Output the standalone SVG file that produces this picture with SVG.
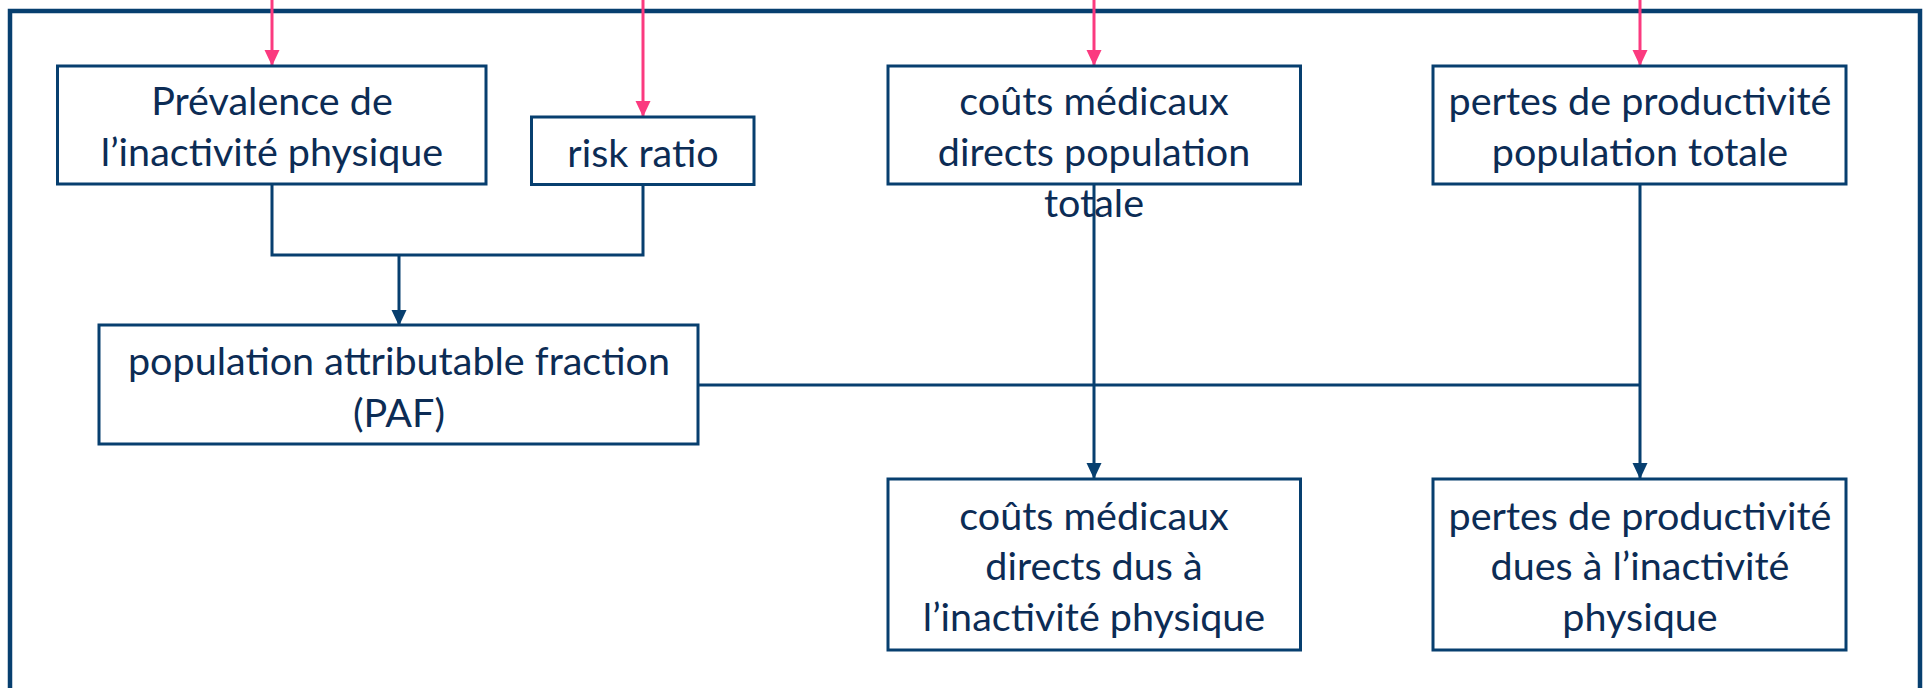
<svg xmlns="http://www.w3.org/2000/svg" width="1925" height="688" viewBox="0 0 1925 688">
<style>
.box{fill:#ffffff;stroke:#073f6f;stroke-width:3}
.t{font-family:Lato,"Liberation Sans",sans-serif;font-size:39.5px;fill:#0c2c55;text-anchor:middle}
.c{fill:none;stroke:#073f6f;stroke-width:3}
.p{fill:none;stroke:#fb3a7f;stroke-width:3}
</style>
<defs>
<marker id="ab" markerUnits="userSpaceOnUse" markerWidth="16" markerHeight="16" refX="16" refY="7.5" orient="auto" viewBox="0 0 16 15">
<path d="M0,0 L16,7.5 L0,15 Z" fill="#073f6f"/>
</marker>
<marker id="ap" markerUnits="userSpaceOnUse" markerWidth="16" markerHeight="16" refX="16" refY="7.5" orient="auto" viewBox="0 0 16 15">
<path d="M0,0 L16,7.5 L0,15 Z" fill="#fb3a7f"/>
</marker>
</defs>
<rect width="1925" height="688" fill="#ffffff"/>
<path d="M10,700 V11 H1920 V700" fill="none" stroke="#073f6f" stroke-width="4.5"/>
<g id="connectors">
<path class="c" d="M272,184 V255 H643 V185"/>
<path class="c" d="M399,255 V326" marker-end="url(#ab)"/>
<path class="c" d="M698,385 H1640"/>
<path class="c" d="M1094,184 V479" marker-end="url(#ab)"/>
<path class="c" d="M1640,184 V479" marker-end="url(#ab)"/>
<path class="p" d="M272,-5 V66" marker-end="url(#ap)"/>
<path class="p" d="M643,-5 V117" marker-end="url(#ap)"/>
<path class="p" d="M1094,-5 V66" marker-end="url(#ap)"/>
<path class="p" d="M1640,-5 V66" marker-end="url(#ap)"/>
</g>
<g id="prevalence">
<rect class="box" x="57.5" y="66" width="428.5" height="118"/>
<text class="t" x="272" y="115">Prévalence de</text>
<text class="t" x="272" y="166">l’inactivité physique</text>
</g>
<g id="risk-ratio">
<rect class="box" x="531.5" y="117" width="222.5" height="67.5"/>
<text class="t" x="643" y="167">risk ratio</text>
</g>
<g id="couts-totaux">
<rect class="box" x="888" y="66" width="412.5" height="118"/>
<text class="t" x="1094" y="115">coûts médicaux</text>
<text class="t" x="1094" y="166">directs population</text>
<text class="t" x="1094" y="217">totale</text>
</g>
<g id="pertes-totales">
<rect class="box" x="1433" y="66" width="413" height="118"/>
<text class="t" x="1640" y="115">pertes de productivité</text>
<text class="t" x="1640" y="166">population totale</text>
</g>
<g id="paf">
<rect class="box" x="99" y="325" width="599" height="119"/>
<text class="t" x="399" y="375">population attributable fraction</text>
<text class="t" x="399" y="427">(PAF)</text>
</g>
<g id="couts-inactivite">
<rect class="box" x="888" y="479" width="412.5" height="171"/>
<text class="t" x="1094" y="530">coûts médicaux</text>
<text class="t" x="1094" y="580">directs dus à</text>
<text class="t" x="1094" y="631">l’inactivité physique</text>
</g>
<g id="pertes-inactivite">
<rect class="box" x="1433" y="479" width="413" height="171"/>
<text class="t" x="1640" y="530">pertes de productivité</text>
<text class="t" x="1640" y="580">dues à l’inactivité</text>
<text class="t" x="1640" y="631">physique</text>
</g>
</svg>
